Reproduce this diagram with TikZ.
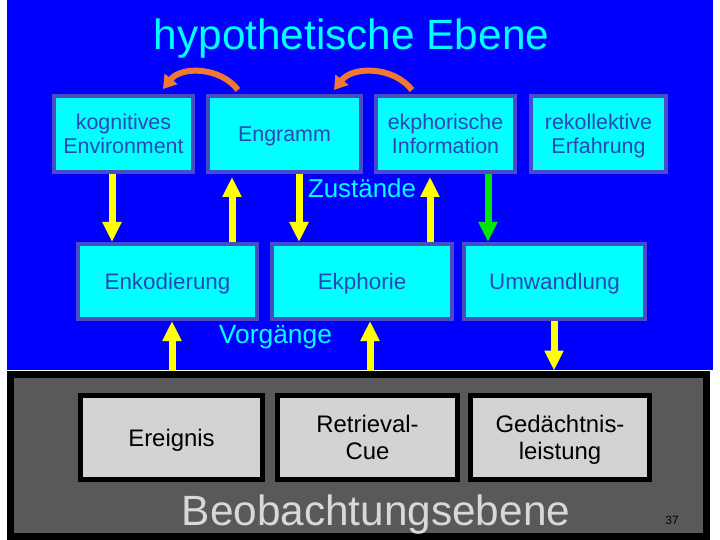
\documentclass[tikz,border=0pt]{standalone}
\usepackage{fontspec}
\setmainfont{Liberation Sans}
\usetikzlibrary{arrows.meta}

\definecolor{slideblue}{RGB}{0,0,255}
\definecolor{boxcyan}{RGB}{0,255,255}
\definecolor{boxedge}{RGB}{75,75,200}
\definecolor{boxtext}{RGB}{40,72,180}
\definecolor{panelgray}{RGB}{89,89,89}
\definecolor{cellgray}{RGB}{211,211,211}
\definecolor{labelgray}{RGB}{216,216,216}
\definecolor{flowyellow}{RGB}{255,255,0}
\definecolor{flowgreen}{RGB}{0,230,0}
\definecolor{arcorange}{RGB}{240,120,48}

\tikzset{
  statebox/.style={draw=boxedge, fill=boxcyan, line width=4bp, text=boxtext, align=center,
    inner sep=0pt, text depth=0pt, minimum height=76bp, font=\fontsize{21.5}{24.5}\selectfont},
  processbox/.style={draw=boxedge, fill=boxcyan, line width=4bp, text=boxtext, align=center,
    inner sep=0pt, text depth=0pt, minimum height=75bp, font=\fontsize{22.5}{25}\selectfont},
  obsbox/.style={draw=black, fill=cellgray, line width=5bp, text=black, align=center,
    inner sep=0pt, text depth=0pt, minimum height=84bp, font=\fontsize{24}{27}\selectfont},
  flow/.style={draw=flowyellow, line width=7bp, -{Triangle[width=18bp,length=20bp]}},
  swaparc/.style={draw=arcorange, line width=6bp, -{Triangle[width=16bp,length=13bp]}, bend right=52}
}

\begin{document}
\begin{tikzpicture}[x=1bp, y=-1bp]
\useasboundingbox (0,0) rectangle (720,540);
\fill[slideblue] (7,0) rectangle (713,370);

% Beobachtungsebene
\node[draw=black, fill=panelgray, line width=7bp, minimum width=696bp, minimum height=162.5bp, inner sep=0pt] at (358.5,455.25) (beob) {};

% hypothetische Ebene
\node[text=boxcyan, font=\fontsize{42.5}{46}\selectfont, anchor=base] at (351.5,50) (title) {hypothetische Ebene};

\node[statebox, minimum width=139bp] at (123.5,134) (kogn) {kognitives\\Environment};
\node[statebox, minimum width=153bp] at (284.5,134) (engramm) {Engramm};
\node[statebox, minimum width=139bp] at (445.5,134) (ekinfo) {ekphorische\\Information};
\node[statebox, minimum width=135bp] at (598.5,134) (rekoll) {rekollektive\\Erfahrung};

\node[text=boxcyan, font=\fontsize{26}{28}\selectfont, anchor=base] at (362,198) (zustaende) {Zustände};

\node[processbox, minimum width=179bp] at (167.5,281.5) (enk) {Enkodierung};
\node[processbox, minimum width=180bp] at (362,281.5) (ekphorie) {Ekphorie};
\node[processbox, minimum width=181bp] at (554.5,281.5) (umw) {Umwandlung};

\node[text=boxcyan, font=\fontsize{26.5}{28}\selectfont, anchor=base] at (275.5,343) (vorgaenge) {Vorgänge};

\node[obsbox, minimum width=182bp] at (171.5,437.5) (ereignis) {Ereignis};
\node[obsbox, minimum width=180bp] at (367.5,437.5) (cue) {Retrieval-\\Cue};
\node[obsbox, minimum width=179bp] at (560,437.5) (leistung) {Gedächtnis-\\leistung};

\node[text=labelgray, font=\fontsize{42.5}{46}\selectfont, anchor=base] at (376,525) (beobtext) {Beobachtungsebene};
\node[text=black, font=\fontsize{12}{14}\selectfont, anchor=base] at (672,524) (pagenum) {37};

% arrow columns
\coordinate (xa) at (112,0);
\coordinate (xb) at (232,0);
\coordinate (xc) at (299,0);
\coordinate (xd) at (430,0);
\coordinate (xe) at (488,0);
\coordinate (xf) at (172,0);
\coordinate (xg) at (370,0);
\coordinate (xh) at (554,0);

\draw[flow] (kogn.south -| xa) -- (enk.north -| xa);
\draw[flow, shorten >=3bp] (enk.north -| xb) -- (engramm.south -| xb);
\draw[flow] (engramm.south -| xc) -- (ekphorie.north -| xc);
\draw[flow, shorten >=3bp] (ekphorie.north -| xd) -- (ekinfo.south -| xd);
\draw[flow, draw=flowgreen] (ekinfo.south -| xe) -- (umw.north -| xe);

\draw[flow] (beob.north -| xf) -- (enk.south -| xf);
\draw[flow] (beob.north -| xg) -- (ekphorie.south -| xg);
\draw[flow] (umw.south -| xh) -- (beob.north -| xh);

\draw[swaparc] ([xshift=32bp,yshift=4bp]engramm.north west) to ([xshift=-32bp,yshift=5bp]kogn.north east);
\draw[swaparc] ([xshift=38bp,yshift=4bp]ekinfo.north west) to ([xshift=-29bp,yshift=4bp]engramm.north east);
\end{tikzpicture}
\end{document}
